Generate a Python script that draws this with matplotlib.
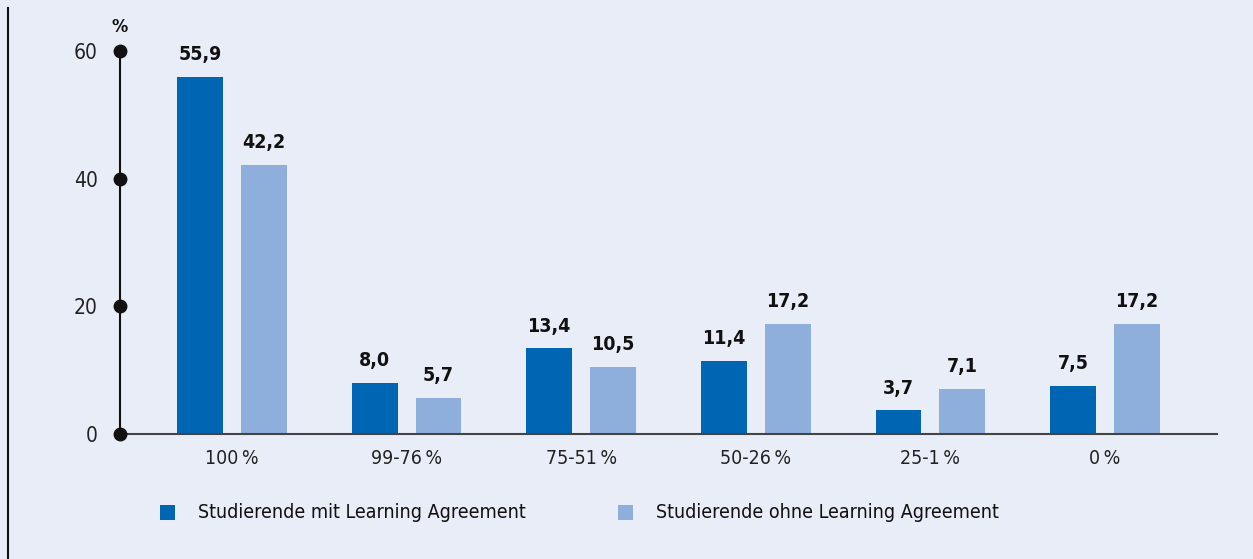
import matplotlib.pyplot as plt
from matplotlib.lines import Line2D
from matplotlib.patches import Rectangle
import numpy as np

plt.rcParams['font.family'] = ['DejaVu Sans']
plt.rcParams['font.stretch'] = 'condensed'

categories = ['100\u2009%', '99-76\u2009%', '75-51\u2009%', '50-26\u2009%', '25-1\u2009%', '0\u2009%']
mit_la = [55.9, 8.0, 13.4, 11.4, 3.7, 7.5]
ohne_la = [42.2, 5.7, 10.5, 17.2, 7.1, 17.2]
series_names = ['Studierende mit Learning Agreement', 'Studierende ohne Learning Agreement']
yticks = [0, 20, 40, 60]

bg = '#E9EDF8'
dark = '#0066B3'
light = '#8EAEDB'

fig = plt.figure(figsize=(12.53, 5.59), dpi=100, facecolor=bg)
ax = fig.add_axes([120 / 1253, 1 - 434 / 559, 1097 / 1253, 383 / 559])
ax.set_facecolor(bg)

x = np.arange(len(categories))
w = 0.263
off = 0.183
b1 = ax.bar(x - off, mit_la, w, color=dark)
b2 = ax.bar(x + off, ohne_la, w, color=light)

for bars, vals in [(b1, mit_la), (b2, ohne_la)]:
    for b, v in zip(bars, vals):
        ax.text(b.get_x() + b.get_width() / 2, v + 2.0, f'{v:.1f}'.replace('.', ','),
                ha='center', va='bottom', fontsize=14, fontweight='bold', color='#111111')

ax.set_xlim(-0.641, 5.641)
ax.set_ylim(0, 60)
for s in ['top', 'right']:
    ax.spines[s].set_visible(False)
ax.spines['left'].set_color('#111111')
ax.spines['left'].set_linewidth(1.5)
ax.spines['bottom'].set_color('#444444')
ax.spines['bottom'].set_linewidth(1.5)

ax.set_yticks(yticks)
ax.set_yticklabels([str(t) for t in yticks], fontsize=15, color='#222222')
ax.tick_params(axis='y', length=0, pad=16)
# round markers on the value axis
ax.plot(np.zeros(len(yticks)), yticks, 'o', color='#111111', markersize=9,
        transform=ax.get_yaxis_transform(), clip_on=False, zorder=5)

ax.set_xticks(x)
ax.set_xticklabels(categories, fontsize=14, color='#222222')
ax.tick_params(axis='x', length=0, pad=11)

ax.text(0, 62.4, '%', transform=ax.get_yaxis_transform(), ha='center', va='bottom',
        fontsize=13, fontweight='bold', color='#111111')

# frame line on the left edge
fig.add_artist(Line2D([8 / 1253, 8 / 1253], [0, 1 - 8 / 559], color='#111111', linewidth=1.5))

# legend
for px, col, name in [(160, dark, series_names[0]), (618, light, series_names[1])]:
    fig.add_artist(Rectangle((px / 1253, 1 - 520 / 559), 15 / 1253, 15 / 559,
                             facecolor=col, edgecolor='none'))
    fig.text((px + 38) / 1253, 1 - 513 / 559, name, fontsize=14, va='center',
             color='#111111')

fig.savefig('out.png', dpi=100, facecolor=bg)
